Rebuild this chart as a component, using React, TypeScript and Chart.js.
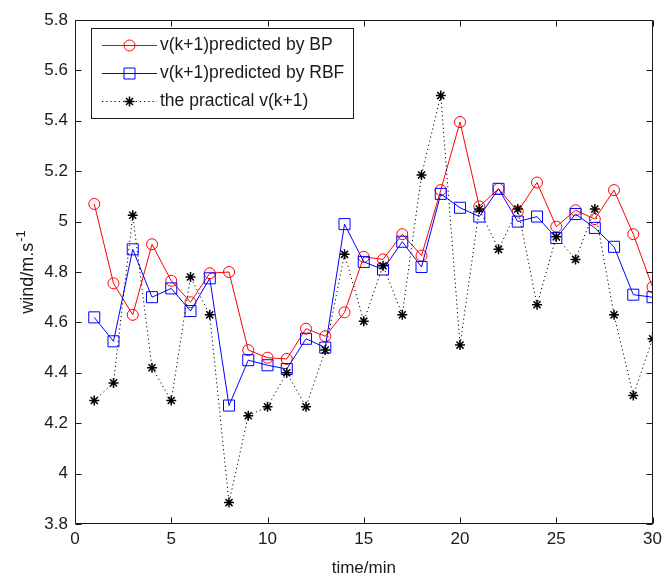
import React, { useEffect, useRef } from "react";
import { Chart, registerables } from "chart.js";

Chart.register(...registerables);

const times = [1, 2, 3, 4, 5, 6, 7, 8, 9, 10, 11, 12, 13, 14, 15, 16, 17, 18, 19, 20, 21, 22, 23, 24, 25, 26, 27, 28, 29, 30];
const bpValues = [5.07, 4.755, 4.63, 4.91, 4.765, 4.68, 4.795, 4.8, 4.49, 4.46, 4.455, 4.575, 4.545, 4.64, 4.86, 4.85, 4.95, 4.865, 5.125, 5.395, 5.06, 5.13, 5.04, 5.155, 4.98, 5.045, 5.01, 5.125, 4.95, 4.74];
const rbfValues = [4.62, 4.525, 4.89, 4.7, 4.735, 4.645, 4.775, 4.27, 4.45, 4.43, 4.415, 4.535, 4.5, 4.99, 4.84, 4.81, 4.92, 4.82, 5.11, 5.055, 5.02, 5.13, 5.0, 5.02, 4.935, 5.03, 4.975, 4.9, 4.71, 4.7];
const actualValues = [4.29, 4.36, 5.025, 4.42, 4.29, 4.78, 4.63, 3.885, 4.23, 4.265, 4.4, 4.265, 4.49, 4.87, 4.605, 4.825, 4.63, 5.185, 5.5, 4.51, 5.05, 4.89, 5.05, 4.67, 4.94, 4.85, 5.05, 4.63, 4.31, 4.535];
const xTicks = [0, 5, 10, 15, 20, 25, 30];
const yTicks = [3.8, 4, 4.2, 4.4, 4.6, 4.8, 5, 5.2, 5.4, 5.6, 5.8];
const seriesLabels = ["v(k+1)predicted by BP", "v(k+1)predicted by RBF", "the practical v(k+1)"];
const xTitle = "time/min";
const yTitle = "wind/m.s";
const yTitleSup = "-1";

const FONT = '"Liberation Sans", Arial, Helvetica, sans-serif';
const AXIS = "#1a1a1a";

function drawMarker(ctx: CanvasRenderingContext2D, kind: string, x: number, y: number) {
  ctx.beginPath();
  if (kind === "circle") {
    ctx.arc(x, y, 5.5, 0, Math.PI * 2);
  } else if (kind === "rect") {
    ctx.rect(x - 5.5, y - 5.5, 11, 11);
  } else {
    const r = 5;
    const d = r * Math.SQRT1_2;
    ctx.moveTo(x - r, y); ctx.lineTo(x + r, y);
    ctx.moveTo(x, y - r); ctx.lineTo(x, y + r);
    ctx.moveTo(x - d, y - d); ctx.lineTo(x + d, y + d);
    ctx.moveTo(x - d, y + d); ctx.lineTo(x + d, y - d);
  }
  ctx.stroke();
}

const framePlugin = {
  id: "frame",
  afterDatasetsDraw(chart: any) {
    const ctx: CanvasRenderingContext2D = chart.ctx;
    const { left, right, top, bottom } = chart.chartArea;
    const xs = chart.scales.x;
    const ys = chart.scales.y;
    ctx.save();
    ctx.strokeStyle = AXIS;
    ctx.lineWidth = 1;
    ctx.setLineDash([]);
    const L = Math.round(left) + 0.5;
    const R = Math.round(right) - 0.5;
    const T = Math.round(top) + 0.5;
    const B = Math.round(bottom) - 0.5;
    ctx.strokeRect(L, T, R - L, B - T);
    const tl = 6;
    ctx.beginPath();
    xTicks.forEach((v) => {
      const px = Math.round(xs.getPixelForValue(v)) + 0.5;
      ctx.moveTo(px, B); ctx.lineTo(px, B - tl);
      ctx.moveTo(px, T); ctx.lineTo(px, T + tl);
    });
    yTicks.forEach((v) => {
      const py = Math.round(ys.getPixelForValue(v)) + 0.5;
      ctx.moveTo(L, py); ctx.lineTo(L + tl, py);
      ctx.moveTo(R, py); ctx.lineTo(R - tl, py);
    });
    ctx.stroke();

    // axis titles
    ctx.fillStyle = AXIS;
    ctx.font = `17px ${FONT}`;
    ctx.textAlign = "center";
    ctx.textBaseline = "middle";
    ctx.fillText(xTitle, (left + right) / 2, 568);

    ctx.save();
    ctx.translate(26, (top + bottom) / 2);
    ctx.rotate(-Math.PI / 2);
    ctx.font = `18px ${FONT}`;
    const w1 = ctx.measureText(yTitle).width;
    ctx.font = `13px ${FONT}`;
    const w2 = ctx.measureText(yTitleSup).width;
    const total = w1 + w2 + 1;
    ctx.textAlign = "left";
    ctx.textBaseline = "alphabetic";
    ctx.font = `18px ${FONT}`;
    ctx.fillText(yTitle, -total / 2, 7);
    ctx.font = `13px ${FONT}`;
    ctx.fillText(yTitleSup, -total / 2 + w1 + 1, -1);
    ctx.restore();

    // legend
    const bx = 91, by = 28, bw = 262, bh = 90;
    ctx.fillStyle = "#ffffff";
    ctx.fillRect(bx, by, bw, bh);
    ctx.strokeStyle = AXIS;
    ctx.lineWidth = 1;
    ctx.strokeRect(bx + 0.5, by + 0.5, bw, bh);
    const styles = [
      { color: "#ff0000", dash: [] as number[], marker: "circle" },
      { color: "#0000ff", dash: [] as number[], marker: "rect" },
      { color: "#000000", dash: [1.2, 3], marker: "star" },
    ];
    seriesLabels.forEach((label, i) => {
      const y = 45.5 + i * 28;
      const st = styles[i];
      ctx.strokeStyle = st.color;
      ctx.lineWidth = 1;
      ctx.setLineDash(st.dash);
      ctx.beginPath();
      ctx.moveTo(102, y); ctx.lineTo(157, y);
      ctx.stroke();
      ctx.setLineDash([]);
      ctx.lineWidth = st.marker === "star" ? 1.5 : 1;
      drawMarker(ctx, st.marker, 129.5, y);
      ctx.fillStyle = AXIS;
      ctx.font = `17.5px ${FONT}`;
      ctx.textAlign = "left";
      ctx.textBaseline = "middle";
      ctx.fillText(label, 160, y);
    });
    ctx.restore();
  },
};

export default function App() {
  const ref = useRef<HTMLCanvasElement | null>(null);
  useEffect(() => {
    if (!ref.current) return;
    const mk = (vals: number[]) => times.map((t, i) => ({ x: t, y: vals[i] }));
    const chart = new Chart(ref.current, {
      type: "line",
      data: {
        datasets: [
          {
            label: seriesLabels[0],
            data: mk(bpValues),
            borderColor: "#ff0000",
            borderWidth: 1,
            pointStyle: "circle",
            pointRadius: 5.5,
            pointBorderColor: "#ff0000",
            pointBackgroundColor: "rgba(0,0,0,0)",
            pointBorderWidth: 1,
            tension: 0,
            order: 3,
          },
          {
            label: seriesLabels[1],
            data: mk(rbfValues),
            borderColor: "#0000ff",
            borderWidth: 1,
            pointStyle: "rect",
            pointRadius: 7.8,
            pointBorderColor: "#0000ff",
            pointBackgroundColor: "rgba(0,0,0,0)",
            pointBorderWidth: 1,
            tension: 0,
            order: 2,
          },
          {
            label: seriesLabels[2],
            data: mk(actualValues),
            borderColor: "#000000",
            borderWidth: 1,
            borderDash: [1.2, 3],
            pointStyle: "star",
            pointRadius: 5,
            pointBorderColor: "#000000",
            pointBackgroundColor: "#000000",
            pointBorderWidth: 1.5,
            tension: 0,
            order: 1,
          },
        ],
      },
      options: {
        animation: false,
        responsive: false,
        devicePixelRatio: 1,
        layout: { padding: { left: 0, top: 20, right: 6, bottom: 0 } },
        plugins: { legend: { display: false }, tooltip: { enabled: false }, title: { display: false } },
        scales: {
          x: {
            type: "linear",
            min: 0,
            max: 30,
            afterBuildTicks: (s: any) => { s.ticks = xTicks.map((v) => ({ value: v })); },
            afterFit: (s: any) => { s.height = 54; },
            grid: { display: false, drawTicks: false },
            border: { display: false },
            ticks: { color: AXIS, font: { family: FONT, size: 17 }, padding: 5, maxRotation: 0, autoSkip: false },
          },
          y: {
            type: "linear",
            min: 3.8,
            max: 5.8,
            afterBuildTicks: (s: any) => { s.ticks = yTicks.map((v) => ({ value: v })); },
            afterFit: (s: any) => { s.width = 75; },
            grid: { display: false, drawTicks: false },
            border: { display: false },
            ticks: {
              color: AXIS,
              font: { family: FONT, size: 17 },
              padding: 7,
              autoSkip: false,
              callback: (v: any) => String(Number(Number(v).toFixed(1))),
            },
          },
        },
      },
      plugins: [framePlugin],
    });
    return () => chart.destroy();
  }, []);
  return (
    <div style={{ position: "absolute", left: 0, top: 0, width: 667, height: 578, background: "#fff" }}>
      <canvas ref={ref} width={667} height={578} style={{ display: "block", width: 667, height: 578 }} />
    </div>
  );
}
